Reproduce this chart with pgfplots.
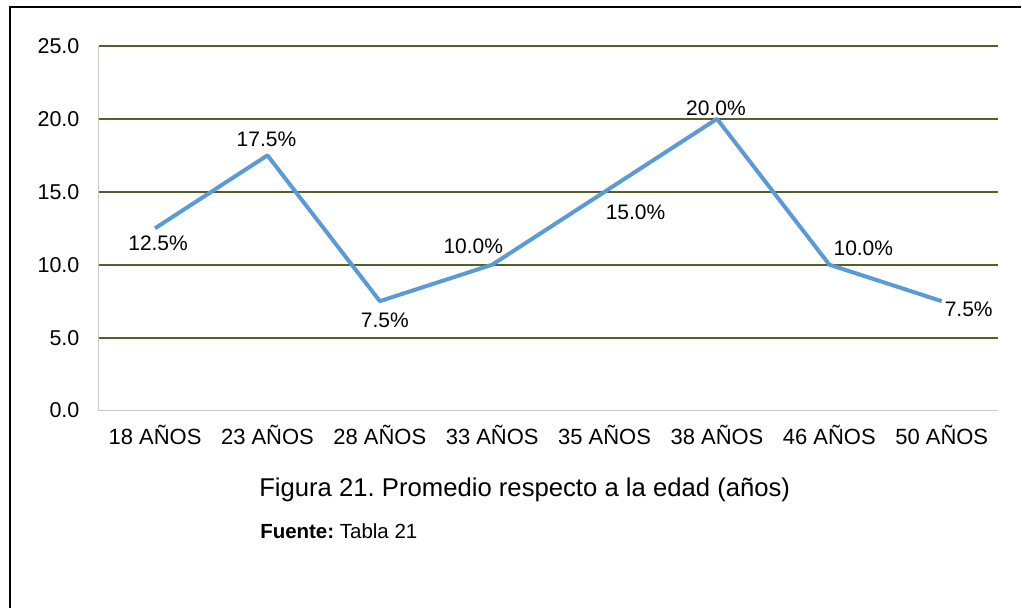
\documentclass[border=0pt]{standalone}
\usepackage{pgfplots}
\pgfplotsset{compat=1.18}
\usepackage{pgfplotstable}
\usepackage{fontspec}
\setmainfont{Liberation Sans}
\frenchspacing
\definecolor{gridgreen}{RGB}{79,98,40}
\definecolor{lineblue}{RGB}{91,155,213}
\definecolor{axgray}{RGB}{200,200,200}
\pgfplotstableread{
x y dx dy
0 12.5 3 -15
1 17.5 -1 16
2 7.5 5 -19
3 10.0 -19 18
4 15.0 31 -21
5 20.0 -1 11
6 10.0 34 16
7 7.5 27 -8
}\datatable
\begin{document}
\begin{tikzpicture}[x=1pt,y=1pt]
\path (0,0) rectangle (1022,609);
\draw[line width=2.2pt,black] (10,0) -- (10,602) -- (1022,602);
\begin{axis}[
  scale only axis,
  width=900pt, height=365pt,
  at={(99pt,198pt)}, anchor=south west,
  xmin=-0.5, xmax=7.5, ymin=0, ymax=25,
  xtick=data,
  xticklabels={18 AÑOS,23 AÑOS,28 AÑOS,33 AÑOS,35 AÑOS,38 AÑOS,46 AÑOS,50 AÑOS},
  ytick={0,5,10,15,20,25},
  axis x line*=bottom, axis y line*=left,
  axis line style={axgray, line width=1.2pt, -},
  tick style={draw=none},
  ymajorgrids, grid style={gridgreen, line width=1.8pt},
  every tick label/.append style={font=\fontsize{21.5}{25}\selectfont, text=black},
  /pgf/number format/assume math mode=true,
  yticklabel style={xshift=-16pt, /pgf/number format/fixed, /pgf/number format/fixed zerofill, /pgf/number format/precision=1},
  xticklabel style={yshift=-11pt, font=\fontsize{22}{26}\selectfont},
  clip=false,
]
\addplot[lineblue, line width=4pt, line join=round,
  point meta=explicit,
  nodes near coords={\pgfmathprintnumber[fixed,fixed zerofill,precision=1,assume math mode=true]{\pgfplotspointmeta}\%},
  visualization depends on={\thisrow{dx} \as \dx},
  visualization depends on={\thisrow{dy} \as \dy},
  every node near coord/.append style={anchor=center, xshift=\dx pt, yshift=\dy pt, font=\fontsize{21}{25}\selectfont, text=black, inner sep=0pt},
] table[x=x, y=y, meta=y] {\datatable};
\end{axis}
\node[anchor=west, font=\fontsize{25.7}{30}\selectfont] at (256,119) {Figura 21. Promedio respecto a la edad (años)};
\node[anchor=west, font=\fontsize{20.5}{24}\selectfont] at (257,77) {\textbf{Fuente:} Tabla 21};
\end{tikzpicture}
\end{document}
